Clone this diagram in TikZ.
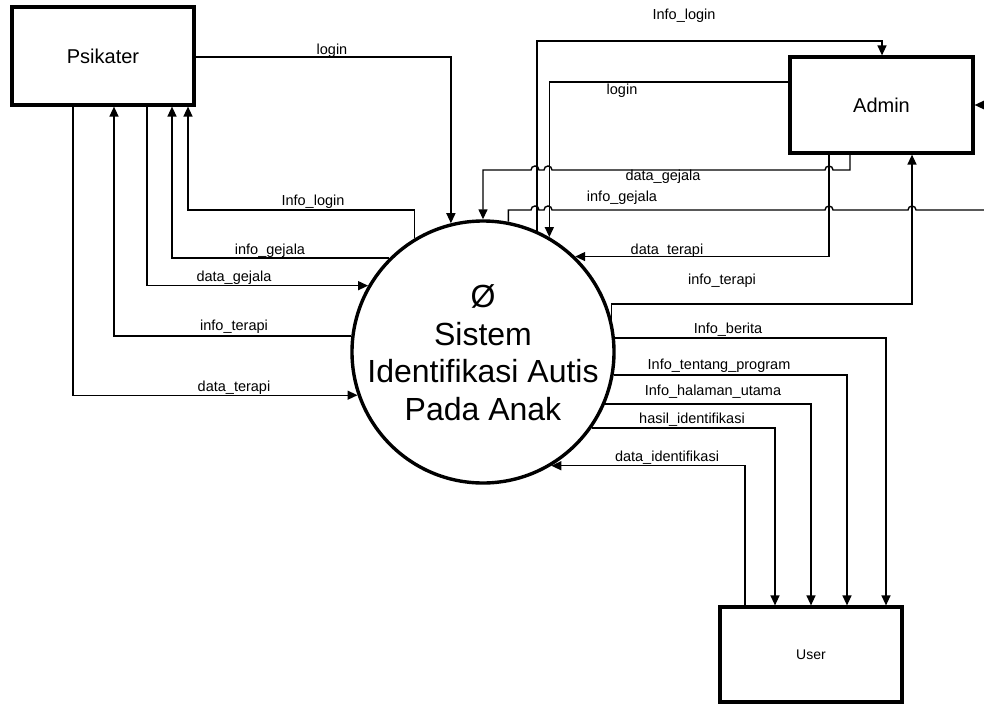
\documentclass[tikz,border=0pt]{standalone}
\usepackage{fontspec}
\setmainfont{Liberation Sans}
\usetikzlibrary{arrows.meta,calc}
\begin{document}
\begin{tikzpicture}[x=1pt,y=-1pt,
  entity/.style={draw,line width=3.2pt,inner sep=0pt,font=\fontsize{20}{24}\selectfont},
  flow/.style={line width=1.4pt,-{Triangle[length=10pt,width=9pt]}},
  lbl/.style={font=\fontsize{14.5}{17}\selectfont,anchor=base,inner sep=0pt},
  big/.style={font=\fontsize{32}{38}\selectfont,anchor=base,inner sep=0pt}]
\useasboundingbox (0,0) rectangle (984,704);
\clip (0,0) rectangle (984,704);
\fill[white] (0,0) rectangle (984,704);
% entities
\node[entity,minimum width=182pt,minimum height=98pt] (ps) at (103,56) {Psikater};
\node[entity,minimum width=183pt,minimum height=96pt] (ad) at (881.5,105) {Admin};
\node[entity,minimum width=182pt,minimum height=95pt,font=\fontsize{14}{17}\selectfont] (us) at (811,654.5) {User};
% process
\node[draw,circle,line width=3.4pt,minimum size=262pt,inner sep=0pt] (sys) at (483,352) {};
\node[big] (t1) at (483,307) {Ø};
\node[big] (t2) at (483,345) {Sistem};
\node[big] (t3) at (483,382.5) {Identifikasi Autis};
\node[big] (t4) at (483,420) {Pada Anak};
% Psikater flows
\draw[flow] (ps.east |- 0,57) -| (sys.104.6);
\draw[flow] (sys.121.3) |- (188,210) -- (ps.south -| 188,0);
\draw[flow] (sys.135.4) -| (ps.south -| 172,0);
\draw[flow] (ps.south -| 147,0) |- (sys.150.3);
\draw[flow] (sys.173) -| (ps.south -| 114,0);
\draw[flow] (ps.south -| 73,0) |- (sys.199.2);
\node[lbl] (l1) at (332,54.5) {login};
\node[lbl] (l2) at (313,205) {Info\_login};
\node[lbl] (l3) at (270,254.5) {info\_gejala};
\node[lbl] (l4) at (234,281.5) {data\_gejala};
\node[lbl] (l5) at (234,330) {info\_terapi};
\node[lbl] (l6) at (234,391) {data\_terapi};
% Admin flows
\draw[flow] (sys.66.6) |- (882,41) -- (ad.north -| 882,0);
\draw[flow] (ad.west |- 0,82) -| (sys.60.2);
\draw[flow] (ad.south -| 850,0) -- (850,170) -- (833,170)
  arc[start angle=0,end angle=-180,radius=4] -- (552,170)
  arc[start angle=0,end angle=-180,radius=4] -- (539,170)
  arc[start angle=0,end angle=-180,radius=4] -- (sys.90 |- 0,170) -- (sys.90);
\draw[flow] (sys.79) |- (531,210)
  arc[start angle=180,end angle=360,radius=4] -- (544,210)
  arc[start angle=180,end angle=360,radius=4] -- (825,210)
  arc[start angle=180,end angle=360,radius=4] -- (908,210)
  arc[start angle=180,end angle=360,radius=4] -- (995,210) -- (ad.east -| 995,0) -- (ad.east);
\draw[flow] (ad.south -| 829,0) |- (sys.46.5);
\draw[flow] (sys.14.2) |- (912,304) -- (ad.south -| 912,0);
\node[lbl] (l7) at (684,19.5) {Info\_login};
\node[lbl] (l8) at (622,94.5) {login};
\node[lbl] (l9) at (663,180.5) {data\_gejala};
\node[lbl] (l10) at (622,201.5) {info\_gejala};
\node[lbl] (l11) at (667,254.5) {data\_terapi};
\node[lbl] (l12) at (722,284.5) {info\_terapi};
% User flows
\draw[flow] (sys.6.1) -| (us.north -| 886,0);
\draw[flow] (sys.350.8) -| (us.north -| 847,0);
\draw[flow] (sys.337.6) -| (us.north -| 811,0);
\draw[flow] (sys.325.6) -| (us.north -| 775,0);
\draw[flow] (us.north -| 745,0) |- (sys.301.3);
\node[lbl] (l13) at (728,333.5) {Info\_berita};
\node[lbl] (l14) at (719,369.5) {Info\_tentang\_program};
\node[lbl] (l15) at (713,395.5) {Info\_halaman\_utama};
\node[lbl] (l16) at (692,423.5) {hasil\_identifikasi};
\node[lbl] (l17) at (667,461.5) {data\_identifikasi};
\end{tikzpicture}
\end{document}
